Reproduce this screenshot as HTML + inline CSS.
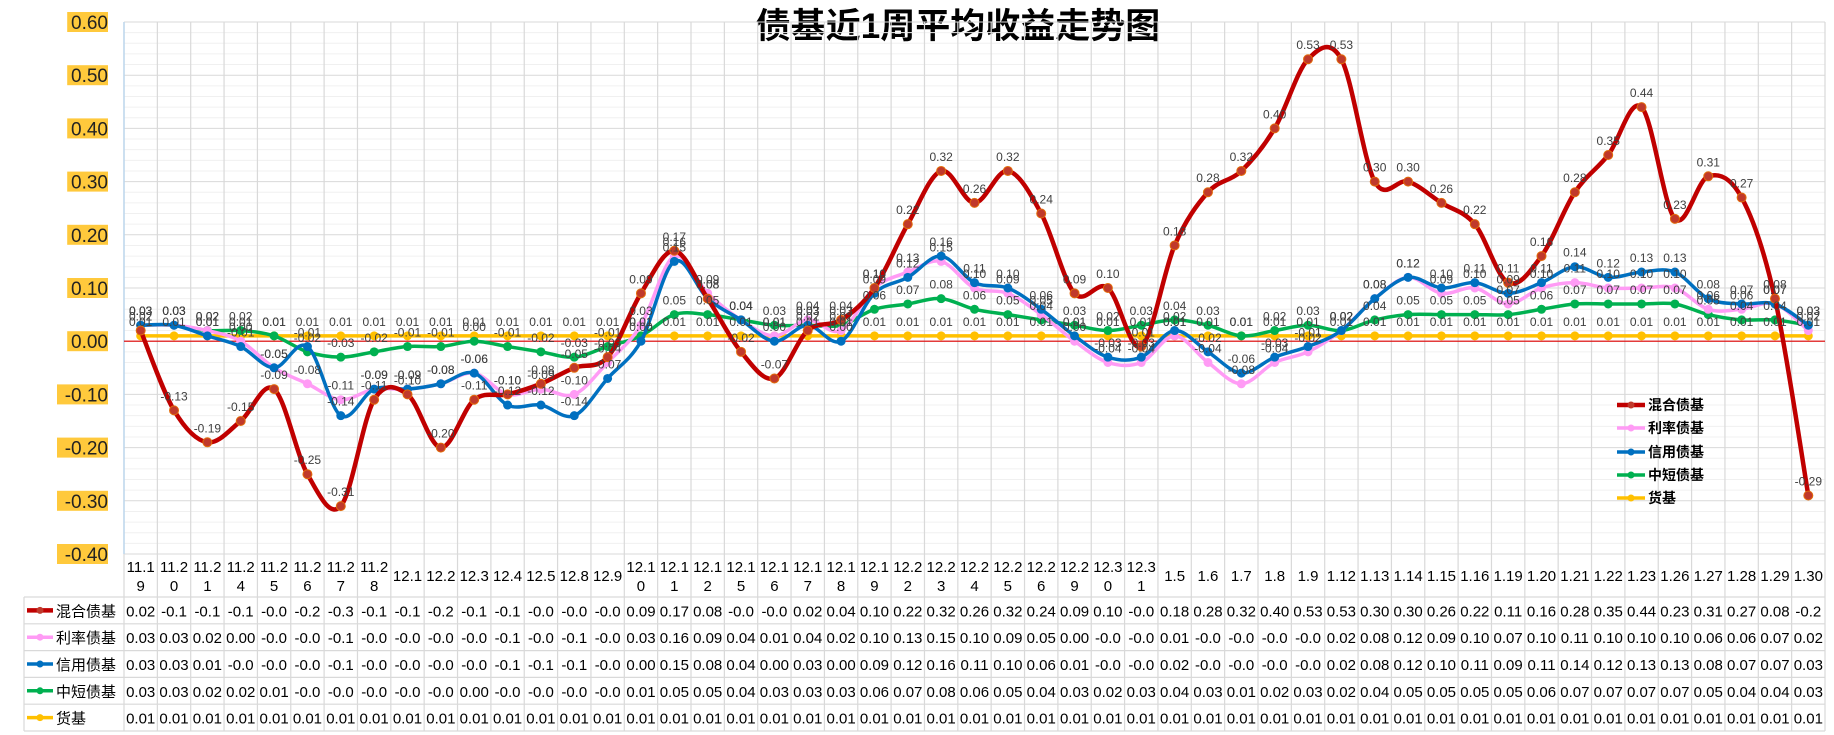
<!DOCTYPE html>
<html><head><meta charset="utf-8"><style>
body{margin:0;background:#fff;}
svg{display:block;font-family:"Liberation Sans","Noto Sans CJK SC",sans-serif;}
</style></head><body>
<svg id="chart" width="1834" height="735" viewBox="0 0 1834 735" xmlns="http://www.w3.org/2000/svg">
<text x="958" y="38" text-anchor="middle" font-size="35" font-weight="bold" fill="#000">债基近1周平均收益走势图</text>
<g id="grid"></g><g id="yaxis"></g><g id="table"></g><g id="series"></g><g id="labels"></g><g id="legend"></g>
</svg>
<script>
const categories=["11.19","11.20","11.21","11.24","11.25","11.26","11.27","11.28","12.1","12.2","12.3","12.4","12.5","12.8","12.9","12.10","12.11","12.12","12.15","12.16","12.17","12.18","12.19","12.22","12.23","12.24","12.25","12.26","12.29","12.30","12.31","1.5","1.6","1.7","1.8","1.9","1.12","1.13","1.14","1.15","1.16","1.19","1.20","1.21","1.22","1.23","1.26","1.27","1.28","1.29","1.30"];
const seriesNames=["混合债基","利率债基","信用债基","中短债基","货基"];
const mixedValues=[0.02,-0.13,-0.19,-0.15,-0.09,-0.25,-0.31,-0.11,-0.10,-0.20,-0.11,-0.10,-0.08,-0.05,-0.03,0.09,0.17,0.08,-0.02,-0.07,0.02,0.04,0.10,0.22,0.32,0.26,0.32,0.24,0.09,0.10,-0.01,0.18,0.28,0.32,0.40,0.53,0.53,0.30,0.30,0.26,0.22,0.11,0.16,0.28,0.35,0.44,0.23,0.31,0.27,0.08,-0.29];
const rateValues=[0.03,0.03,0.02,0.00,-0.05,-0.08,-0.11,-0.09,-0.09,-0.08,-0.06,-0.10,-0.09,-0.10,-0.04,0.03,0.16,0.09,0.04,0.01,0.04,0.02,0.10,0.13,0.15,0.10,0.09,0.05,0.00,-0.04,-0.04,0.01,-0.04,-0.08,-0.04,-0.02,0.02,0.08,0.12,0.09,0.10,0.07,0.10,0.11,0.10,0.10,0.10,0.06,0.06,0.07,0.02];
const creditValues=[0.03,0.03,0.01,-0.01,-0.05,-0.01,-0.14,-0.09,-0.09,-0.08,-0.06,-0.12,-0.12,-0.14,-0.07,0.00,0.15,0.08,0.04,0.00,0.03,0.00,0.09,0.12,0.16,0.11,0.10,0.06,0.01,-0.03,-0.03,0.02,-0.02,-0.06,-0.03,-0.01,0.02,0.08,0.12,0.10,0.11,0.09,0.11,0.14,0.12,0.13,0.13,0.08,0.07,0.07,0.03];
const shortValues=[0.03,0.03,0.02,0.02,0.01,-0.02,-0.03,-0.02,-0.01,-0.01,0.00,-0.01,-0.02,-0.03,-0.01,0.01,0.05,0.05,0.04,0.03,0.03,0.03,0.06,0.07,0.08,0.06,0.05,0.04,0.03,0.02,0.03,0.04,0.03,0.01,0.02,0.03,0.02,0.04,0.05,0.05,0.05,0.05,0.06,0.07,0.07,0.07,0.07,0.05,0.04,0.04,0.03];
const moneyValues=[0.01,0.01,0.01,0.01,0.01,0.01,0.01,0.01,0.01,0.01,0.01,0.01,0.01,0.01,0.01,0.01,0.01,0.01,0.01,0.01,0.01,0.01,0.01,0.01,0.01,0.01,0.01,0.01,0.01,0.01,0.01,0.01,0.01,0.01,0.01,0.01,0.01,0.01,0.01,0.01,0.01,0.01,0.01,0.01,0.01,0.01,0.01,0.01,0.01,0.01,0.01];
const yTicks=[0.6,0.5,0.4,0.3,0.2,0.1,0,-0.1,-0.2,-0.3,-0.4];

const NS="http://www.w3.org/2000/svg";
const L=124,R=1825,TOP=22,BOT=554,YMAX=0.6,YMIN=-0.4;
const CW=(R-L)/categories.length;
function xPos(i){return L+CW*(i+0.5);}
function yPos(v){return TOP+(YMAX-v)/(YMAX-YMIN)*(BOT-TOP);}
function mk(tag,attrs,parent){const e=document.createElementNS(NS,tag);for(const k in attrs)e.setAttribute(k,attrs[k]);parent.appendChild(e);return e;}
const grid=document.getElementById('grid'),yaxis=document.getElementById('yaxis'),table=document.getElementById('table'),series=document.getElementById('series'),labels=document.getElementById('labels'),legend=document.getElementById('legend');

for(let k=0;k<=50;k++){const v=YMIN+k*0.02;const y=yPos(v);
  const ln=mk('line',{x1:L,x2:R,y1:y,y2:y,stroke:(k%5===0)?'#d9d9d9':'#f0f0f0','stroke-width':1},grid);
  
  }
const ROW0=597,RH=26.8;
for(let i=0;i<=categories.length;i++){const x=L+CW*i;
  const ln=mk('line',{x1:x,x2:x,y1:TOP,y2:ROW0+RH*5,stroke:'#d9d9d9','stroke-width':1.2},grid);
  
  }
mk('line',{x1:L,x2:L,y1:TOP,y2:BOT,stroke:'#bdd7ee','stroke-width':1.5},grid);
const zl=mk('line',{x1:L,x2:R,y1:yPos(0),y2:yPos(0),stroke:'#e00000','stroke-width':1.2},grid);



yTicks.forEach(v=>{const y=yPos(v);const t=v.toFixed(2);
  const w=t.length*10.2;
  const r=mk('rect',{x:108-w,y:y-10,width:w,height:20,fill:'#FFC93C'},yaxis);
  
  
  const tx=mk('text',{x:108,y:y+7,'text-anchor':'end','font-size':19,fill:'#222'},yaxis);
  tx.textContent=t;
  
  });

categories.forEach((c,i)=>{const x=xPos(i);
  const parts=c.length>4?[c.slice(0,4),c.slice(4)]:[c];
  parts.forEach((p,j)=>{const y=parts.length===1?581:572+j*19;
    const t=mk('text',{x:x,y:y,'text-anchor':'middle','font-size':15,fill:'#000'},table);
    t.textContent=p;
    
    });});

const allSeries=[
 {name:seriesNames[0],vals:mixedValues,color:'#C00000',mfill:'#C0392B',w:4.5,key:'mixed'},
 {name:seriesNames[1],vals:rateValues,color:'#FF9BF5',mfill:'#FF9BF5',w:3.5,key:'rate'},
 {name:seriesNames[2],vals:creditValues,color:'#0070C0',mfill:'#0070C0',w:3.5,key:'credit'},
 {name:seriesNames[3],vals:shortValues,color:'#00B050',mfill:'#00B050',w:3.5,key:'short'},
 {name:seriesNames[4],vals:moneyValues,color:'#FFC000',mfill:'#FFC000',w:3.5,key:'money'}];

for(let r=0;r<=5;r++){const y=ROW0+RH*r;
  mk('line',{x1:24,x2:R,y1:y,y2:y,stroke:'#d9d9d9','stroke-width':1.2},table);}
mk('line',{x1:24,x2:24,y1:ROW0,y2:ROW0+RH*5,stroke:'#d9d9d9','stroke-width':1.2},table);
allSeries.forEach((s,r)=>{const cy=ROW0+RH*r+RH/2;
  mk('line',{x1:27,x2:53,y1:cy,y2:cy,stroke:s.color,'stroke-width':s.w},table);
  mk('circle',{cx:40,cy:cy,r:3.5,fill:s.mfill},table);
  const t=mk('text',{x:56,y:cy+6,'font-size':15,fill:'#000'},table);
  t.textContent=s.name;
  
  
  s.vals.forEach((v,i)=>{let str=v.toFixed(2);if(str.length>4)str=str.slice(0,4);
    const c=mk('text',{x:xPos(i),y:cy+6,'text-anchor':'middle','font-size':15,fill:'#000'},table);
    c.textContent=str;
    
    });});

function smoothPath(pts){let d='M'+pts[0][0]+','+pts[0][1];
  for(let i=0;i<pts.length-1;i++){const p0=pts[Math.max(i-1,0)],p1=pts[i],p2=pts[i+1],p3=pts[Math.min(i+2,pts.length-1)];
    const c1=[p1[0]+(p2[0]-p0[0])/6,p1[1]+(p2[1]-p0[1])/6];
    const c2=[p2[0]-(p3[0]-p1[0])/6,p2[1]-(p3[1]-p1[1])/6];
    d+=' C'+c1[0]+','+c1[1]+' '+c2[0]+','+c2[1]+' '+p2[0]+','+p2[1];}
  return d;}
[4,3,1,2,0].forEach(idx=>{const s=allSeries[idx];
  const pts=s.vals.map((v,i)=>[xPos(i),yPos(v)]);
  const g=mk('g',{},series);
  
  
  mk('path',{d:smoothPath(pts),fill:'none',stroke:s.color,'stroke-width':s.w,'stroke-linejoin':'round'},g);
  pts.forEach(p=>{const c=mk('circle',{cx:p[0],cy:p[1],r:4.5,fill:s.mfill,stroke:idx===0?'#E36C09':'none','stroke-width':1},g);
    
    });
  s.vals.forEach((v,i)=>{const t=mk('text',{x:xPos(i),y:yPos(v)-10,'text-anchor':'middle','font-size':12,fill:'#404040'},labels);
    t.textContent=v.toFixed(2);
    
    });});

const legY=[405,428,452,475,498];
allSeries.forEach((s,r)=>{const y=legY[r];
  const g=mk('g',{},legend);
  
  
  mk('line',{x1:1617,x2:1645,y1:y,y2:y,stroke:s.color,'stroke-width':s.w},g);
  mk('circle',{cx:1631,cy:y,r:3.5,fill:s.mfill},g);
  const t=mk('text',{x:1648,y:y+5,'font-size':14,'font-weight':'bold',fill:'#000'},g);
  t.textContent=s.name;});
</script>
</body></html>
